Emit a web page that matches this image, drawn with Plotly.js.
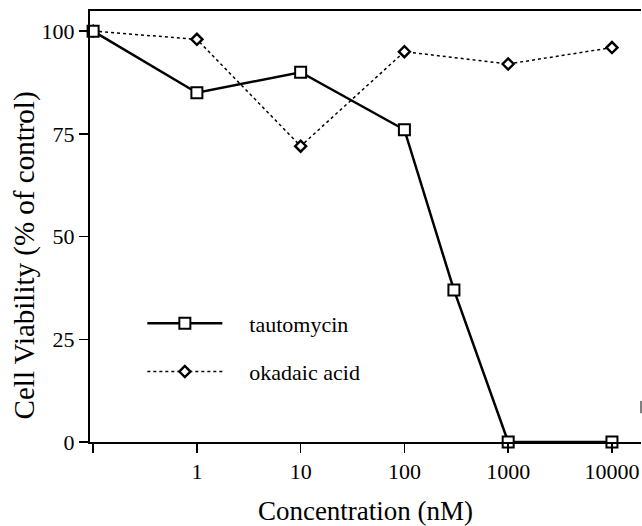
<!DOCTYPE html>
<html>
<head>
<meta charset="utf-8">
<script src="https://cdn.plot.ly/plotly-3.0.1.min.js"></script>
<style>html,body{margin:0;padding:0;background:#fff;}#chart{width:642px;height:526px;}</style>
</head>
<body>
<div id="chart"></div>
<script>
const concentration = [0.1, 1, 10, 100, 300, 1000, 10000];
const tautomycin = [100, 85, 90, 76, 37, 0, 0];
const okadaicConc = [0.1, 1, 10, 100, 1000, 10000];
const okadaic = [100, 98, 72, 95, 92, 96];
const seriesNames = ['tautomycin', 'okadaic acid'];
const xTickVals = [0.1, 1, 10, 100, 1000, 10000];
const xTickText = ['', '1', '10', '100', '1000', '10000'];
const yTickVals = [0, 25, 50, 75, 100];
const yTitle = 'Cell Viability (% of control)';
const xTitle = 'Concentration (nM)';

const serif = 'Liberation Serif';
const pad = '\u00a0\u00a0\u00a0\u00a0';

const traces = [
  {
    x: okadaicConc, y: okadaic, name: pad + seriesNames[1], type: 'scatter', mode: 'lines+markers',
    line: {color: '#000', width: 1.5, dash: 'dot'},
    marker: {symbol: 'diamond', size: 8.5, color: '#fff', line: {color: '#000', width: 2.4}},
    cliponaxis: false, legend: 'legend2'
  },
  {
    x: concentration, y: tautomycin, name: pad + seriesNames[0], type: 'scatter', mode: 'lines+markers',
    line: {color: '#000', width: 2.5},
    marker: {symbol: 'square', size: 11, color: '#fff', line: {color: '#000', width: 2}},
    cliponaxis: false, legend: 'legend'
  }
];

const layout = {
  width: 642, height: 526,
  margin: {l: 90, r: 1, t: 11, b: 84},
  paper_bgcolor: '#fff', plot_bgcolor: '#fff',
  font: {family: serif, color: '#000', size: 22},
  showlegend: true,
  legend: {x: 0.095, y: 0.275, xanchor: 'left', yanchor: 'middle', itemwidth: 75,
           font: {family: serif, size: 22}, bgcolor: 'rgba(0,0,0,0)'},
  legend2: {x: 0.095, y: 0.163, xanchor: 'left', yanchor: 'middle', itemwidth: 75,
           font: {family: serif, size: 22}, bgcolor: 'rgba(0,0,0,0)'},
  xaxis: {
    type: 'log', range: [-1.03, 4.28],
    tickvals: xTickVals, ticktext: xTickText,
    ticks: 'outside', ticklen: 9, tickwidth: 1.5, tickcolor: '#000',
    showline: true, linecolor: '#000', linewidth: 2, mirror: true,
    showgrid: false, zeroline: false,
    tickfont: {family: serif, size: 22},
    title: {text: xTitle, font: {family: serif, size: 27}, standoff: 22}
  },
  yaxis: {
    range: [0, 104.9],
    tickvals: yTickVals,
    ticks: 'outside', ticklen: 9, tickwidth: 1.5, tickcolor: '#000',
    showline: true, linecolor: '#000', linewidth: 2,
    showgrid: false, zeroline: false,
    tickfont: {family: serif, size: 22}
  },
  annotations: [
    {text: yTitle, xref: 'paper', yref: 'paper', x: 0, y: 0.433, xanchor: 'center', yanchor: 'middle',
     xshift: -66, textangle: -90, showarrow: false, font: {family: serif, size: 29, color: '#000'}}
  ],
  shapes: [
    {type: 'line', xref: 'paper', yref: 'y', x0: 1, x1: 1, y0: 7, y1: 10, line: {color: '#000', width: 1}}
  ]
};

Plotly.newPlot('chart', traces, layout, {displayModeBar: false, staticPlot: true});
</script>
</body>
</html>
